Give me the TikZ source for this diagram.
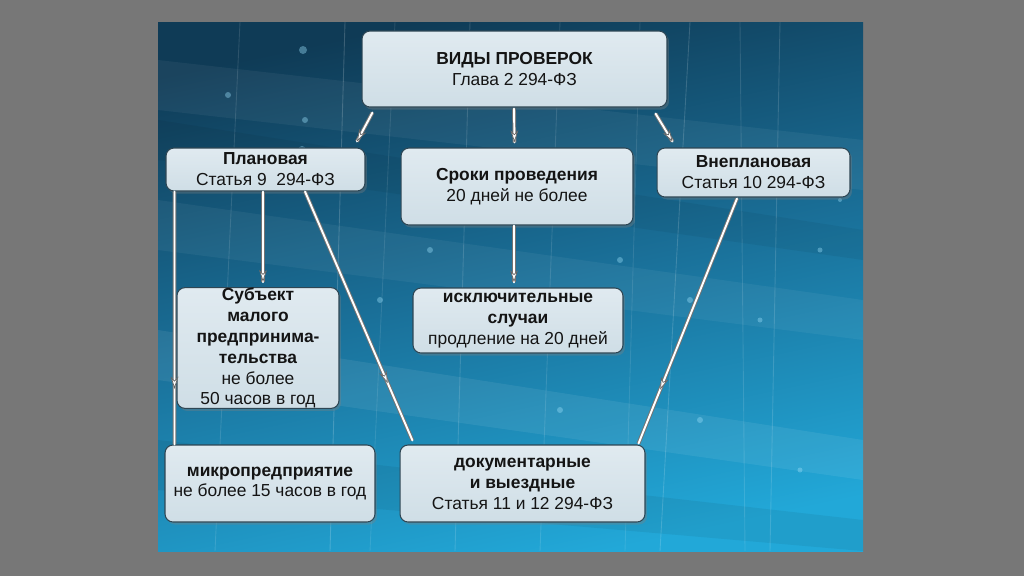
\documentclass[tikz,border=0pt]{standalone}
\usepackage{fontspec}
\setmainfont{Liberation Sans}
\usetikzlibrary{calc,arrows.meta,decorations.markings,shadows}
\definecolor{graybg}{HTML}{777777}
\definecolor{pantop}{HTML}{0F3B56}
\definecolor{panmid}{HTML}{1A7099}
\definecolor{panbot}{HTML}{22A8D8}
\definecolor{boxfill}{HTML}{CFDEE6}
\definecolor{boxtop}{HTML}{E0EAF0}
\definecolor{boxline}{HTML}{2E4654}
\definecolor{txt}{HTML}{141414}
\tikzset{
  box/.style={draw=boxline, line width=0.6pt, rounded corners=0.16cm,
    top color=boxtop, bottom color=boxfill, align=center, inner sep=0pt,
    text=txt, font=\fontsize{9.9}{11.9}\selectfont,
    drop shadow={shadow xshift=0.04cm, shadow yshift=-0.05cm, opacity=0.35}},
  conn/.style={draw=white, line width=1.1pt, line cap=round,
    preaction={draw=black!55, line width=2.2pt}},
  arrowat/.style={postaction={decorate, decoration={markings,
    mark=at position #1 with {\arrow{Stealth[length=7pt,width=4.5pt,color=black!60,fill=white,line width=0.4pt]}}}}},
  streak/.style={draw=white, line width=0.5pt, opacity=#1},
}
\begin{document}
\begin{tikzpicture}[x=0.02cm, y=-0.02cm]
\useasboundingbox (0,0) rectangle (1024,576);
\fill[graybg] (0,0) rectangle (1024,576);
% panel
\shade[top color=pantop, bottom color=panbot, middle color=panmid, shading angle=12] (158,22) rectangle (863,551);
\begin{scope}
\clip (158,22) rectangle (863,551);
\fill[white, opacity=0.05] (158,60) -- (863,140) -- (863,190) -- (158,110) -- cycle;
\fill[white, opacity=0.05] (158,200) -- (863,300) -- (863,340) -- (158,250) -- cycle;
\fill[white, opacity=0.07] (158,330) -- (863,440) -- (863,480) -- (158,380) -- cycle;
\fill[black, opacity=0.05] (158,120) -- (863,230) -- (863,260) -- (158,160) -- cycle;
\fill[black, opacity=0.06] (158,440) -- (863,520) -- (863,551) -- (158,490) -- cycle;
\foreach \a/\b/\o in {240/215/0.12, 345/330/0.18, 470/455/0.14, 560/540/0.12,
  690/660/0.16, 780/770/0.14, 395/370/0.1, 640/625/0.1, 740/745/0.12}
  \draw[streak=\o] (\a,22) -- (\b,551);
\foreach \x/\y/\r in {303/50/4, 305/120/3, 302/150/4, 228/95/3, 430/250/3,
  620/260/3, 690/300/3, 760/320/2.5, 820/250/2.5, 380/300/3, 560/410/3,
  700/420/3, 840/200/2, 800/470/2.5}
  \fill[cyan!40!white, opacity=0.4] (\x,\y) circle (\r);
\end{scope}

% nodes
\node[box, minimum width=6.1cm, minimum height=1.52cm] (top) at (514.5,69)
  {\textbf{ВИДЫ ПРОВЕРОК}\\Глава 2 294-ФЗ};
\node[box, minimum width=3.98cm, minimum height=0.86cm] (pl) at (265.5,169.5)
  {\textbf{Плановая}\\Статья 9\ \ 294-ФЗ};
\node[box, minimum width=4.64cm, minimum height=1.54cm] (sr) at (517,186.5)
  {\textbf{Сроки проведения}\\20 дней не более};
\node[box, minimum width=3.86cm, minimum height=0.98cm] (vn) at (753.5,172.5)
  {\textbf{Внеплановая}\\Статья 10 294-ФЗ};
\node[box, minimum width=3.24cm, minimum height=2.4cm] (sub) at (258,348)
  {\textbf{Субъект}\\\textbf{малого}\\\textbf{предпринима-}\\\textbf{тельства}\\не более\\50 часов в год};
\node[box, minimum width=4.2cm, minimum height=1.3cm] (isk) at (518,320.5)
  {\textbf{исключительные}\\\textbf{случаи}\\продление на 20 дней};
\node[box, minimum width=4.2cm, minimum height=1.54cm] (mik) at (270,483.5)
  {\textbf{микропредприятие}\\не более 15 часов в год};
\node[box, minimum width=4.9cm, minimum height=1.54cm] (dok) at (522.5,483.5)
  {\textbf{документарные}\\\textbf{и выездные}\\Статья 11 и 12 294-ФЗ};

% connectors
\draw[conn, arrowat=1] ($(top.south west)+(11,5)$) -- ($(pl.north)+(91.5,-6)$);
\draw[conn, arrowat=1] ($(top.south)+(-0.5,1)$) -- ($(sr.north)+(-2.5,-5)$);
\draw[conn, arrowat=1] ($(top.south east)+(-12,6)$) -- ($(vn.north west)+(16,-6)$);
\draw[conn, arrowat=0.78] ($(pl.south west)+(9,0)$) -- ($(mik.north west)+(10,0)$);
\draw[conn, arrowat=1] ($(pl.south)+(-2.5,0)$) -- ($(sub.north)+(5,-5)$);
\draw[conn, arrowat=0.77] ($(pl.south)+(39.5,0)$) -- ($(dok.north west)+(13,-4)$);
\draw[conn, arrowat=1] ($(sr.south)+(-3,0)$) -- ($(isk.north)+(-4,-5)$);
\draw[conn, arrowat=0.78] ($(vn.south)+(-16.5,1)$) -- ($(dok.north east)+(-7,-1)$);
\end{tikzpicture}
\end{document}
